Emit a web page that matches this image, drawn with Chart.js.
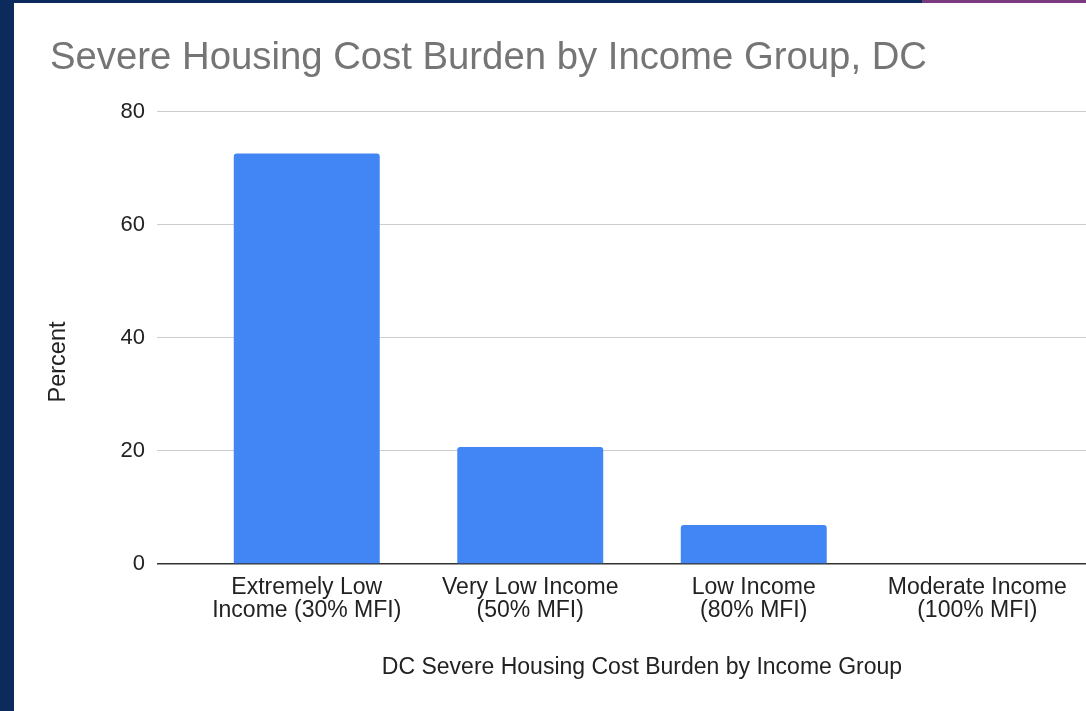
<!DOCTYPE html>
<html>
<head>
<meta charset="utf-8">
<script src="https://cdn.jsdelivr.net/npm/chart.js@4"></script>
<style>
  html, body { margin: 0; padding: 0; width: 1086px; height: 711px; overflow: hidden; background: #0c2a5b; }
  .purple-strip { position: absolute; left: 922px; top: 0; width: 164px; height: 3px; background: #7a3b7e; }
  .chart-box { position: absolute; left: 14px; top: 3px; width: 1080px; height: 708px; background: #ffffff; }
</style>
</head>
<body>
<div class="purple-strip"></div>
<div class="chart-box"><canvas id="burden-chart"></canvas></div>
<script>
// values
const categories = [
    ['Extremely Low', 'Income (30% MFI)'],
    ['Very Low Income', '(50% MFI)'],
    ['Low Income', '(80% MFI)'],
    ['Moderate Income', '(100% MFI)']
];
const percentValues = [72.6, 20.7, 6.9, 0];
const yMin = 0;
const yMax = 80;
const yStep = 20;

const chartTitle = 'Severe Housing Cost Burden by Income Group, DC';
const xTitle = 'DC Severe Housing Cost Burden by Income Group';
const yTitle = 'Percent';

const fontFamily = '"Liberation Sans", Arial, sans-serif';

// y axis title is drawn a bit below the middle, like the reference
const yTitlePlugin = {
    id: 'yTitlePlugin',
    afterDraw(chart) {
        const ctx = chart.ctx;
        ctx.save();
        ctx.translate(44.5, 359);
        ctx.rotate(-Math.PI / 2);
        ctx.font = '23.5px ' + fontFamily;
        ctx.fillStyle = '#222222';
        ctx.textAlign = 'center';
        ctx.textBaseline = 'middle';
        ctx.fillText(yTitle, 0, 0);
        ctx.restore();
    }
};

const ctx = document.getElementById('burden-chart').getContext('2d');
new Chart(ctx, {
    type: 'bar',
    data: {
        labels: categories,
        datasets: [{
            label: yTitle,
            data: percentValues,
            backgroundColor: '#4285f4',
            borderRadius: 3,
            borderSkipped: 'bottom',
            categoryPercentage: 1,
            barPercentage: 0.653
        }]
    },
    options: {
        responsive: true,
        maintainAspectRatio: false,
        devicePixelRatio: 1,
        animation: false,
        layout: {
            padding: { left: 36, right: 5, top: 0, bottom: 0 }
        },
        scales: {
            x: {
                afterFit: (scale) => { scale.height = 147; },
                grid: { display: false, drawTicks: false },
                border: { display: false },
                ticks: {
                    color: '#222222',
                    padding: 12.5,
                    maxRotation: 0,
                    autoSkip: false,
                    font: { family: fontFamily, size: 23, lineHeight: 1.0 }
                },
                title: {
                    display: true,
                    text: xTitle,
                    color: '#222222',
                    padding: { top: 0, bottom: 29.7 },
                    font: { family: fontFamily, size: 23, lineHeight: 1.2 }
                }
            },
            y: {
                min: yMin,
                max: yMax,
                afterFit: (scale) => { scale.width = 145; },
                grid: {
                    color: (c) => c.tick && c.tick.value === 0 ? '#333333' : '#cccccc',
                    lineWidth: (c) => c.tick && c.tick.value === 0 ? 1.5 : 1,
                    drawTicks: true,
                    tickLength: 38
                },
                border: { display: false },
                ticks: {
                    stepSize: yStep,
                    color: '#222222',
                    padding: 12,
                    font: { family: fontFamily, size: 22 }
                },
                title: { display: false }
            }
        },
        plugins: {
            legend: { display: false },
            tooltip: { enabled: false },
            title: {
                display: true,
                text: chartTitle,
                align: 'start',
                color: '#757575',
                padding: { top: 32, bottom: 30.6 },
                font: { family: fontFamily, size: 38.3, weight: 'normal', lineHeight: 1.2 }
            }
        }
    },
    plugins: [yTitlePlugin]
});
</script>
</body>
</html>
